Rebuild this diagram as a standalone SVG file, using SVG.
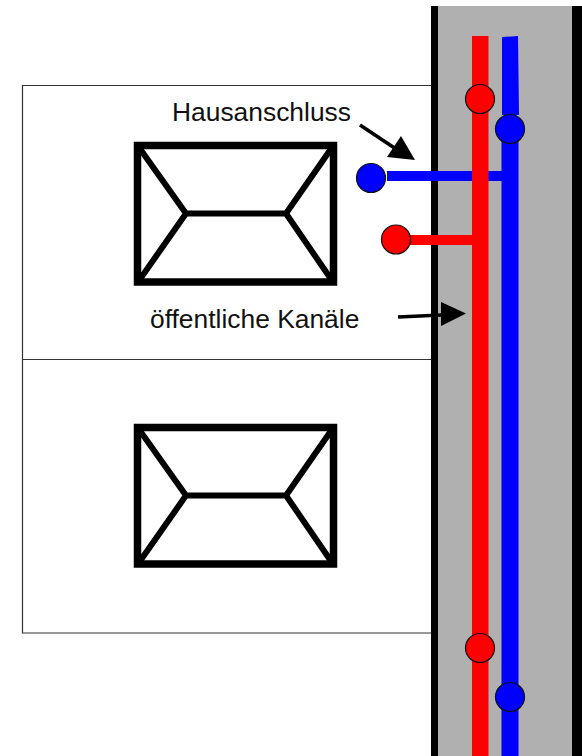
<svg xmlns="http://www.w3.org/2000/svg" width="582" height="756" viewBox="0 0 582 756">
<style>
.thin{fill:none;stroke:#333;stroke-width:1.2}
.roof{fill:none;stroke:#000;stroke-width:6;stroke-linejoin:miter}
.wall{fill:none;stroke:#000;stroke-width:7.5}
.label{font-family:"Liberation Sans",Arial,sans-serif;font-size:26.4px;fill:#111}
.ptr{fill:none;stroke:#000;stroke-width:3.5}
.red{fill:#f00}
.blue{fill:#00f}
.node{stroke:#111;stroke-width:1.2}
</style>
<defs>
<g id="house">
<rect class="wall" x="137.500" y="145.500" width="196" height="136.500"/>
<path class="roof" d="M138 146 L186 213.500 L286 213.500 L333 146 M138 282 L186 213.500 M286 213.500 L333 282"/>
</g>
</defs>
<g id="plots">
<path class="thin" d="M431 85.500 H22.500 V633 H431 M22.500 359.500 H431"/>
</g>
<g id="road">
<rect x="438" y="6" width="134" height="750" fill="#b0b0b0"/>
<rect x="431" y="6" width="7" height="750" fill="#000"/>
<rect x="572" y="6" width="10" height="750" fill="#000"/>
</g>
<g id="house-1"><use href="#house"/></g>
<g id="house-2"><use href="#house" y="282"/></g>
<g id="connectors">
<rect class="blue" x="387" y="171" width="116" height="10"/>
<rect class="red" x="410" y="235" width="64" height="10"/>
<path class="blue" d="M502 37 L518 36 L519 115 L502 115 Z"/>
<rect class="blue" x="501.500" y="130" width="17" height="626"/>
<rect class="red" x="472" y="36" width="16.500" height="720"/>
<path class="ptr" d="M360 125 L396 149"/>
<path d="M401 136 L415 160 L387 157 Z" fill="#000"/>
<path class="ptr" d="M398 317 L442 315"/>
<path d="M441 302 L466 313.500 L441 326 Z" fill="#000"/>
</g>
<g id="manhole-red-1"><circle class="red node" cx="480" cy="99" r="14.500"/></g>
<g id="manhole-blue-1"><circle class="blue node" cx="510" cy="129" r="14.500"/></g>
<g id="connection-blue"><circle class="blue node" cx="371" cy="178" r="14.500"/></g>
<g id="connection-red"><circle class="red node" cx="396" cy="239.500" r="14.500"/></g>
<g id="manhole-red-2"><circle class="red node" cx="480" cy="648" r="14.500"/></g>
<g id="manhole-blue-2"><circle class="blue node" cx="510" cy="697" r="14.500"/></g>
<g id="labels">
<text class="label" x="172" y="121">Hausanschluss</text>
<text class="label" x="150" y="328">öffentliche Kanäle</text>
</g>
</svg>
